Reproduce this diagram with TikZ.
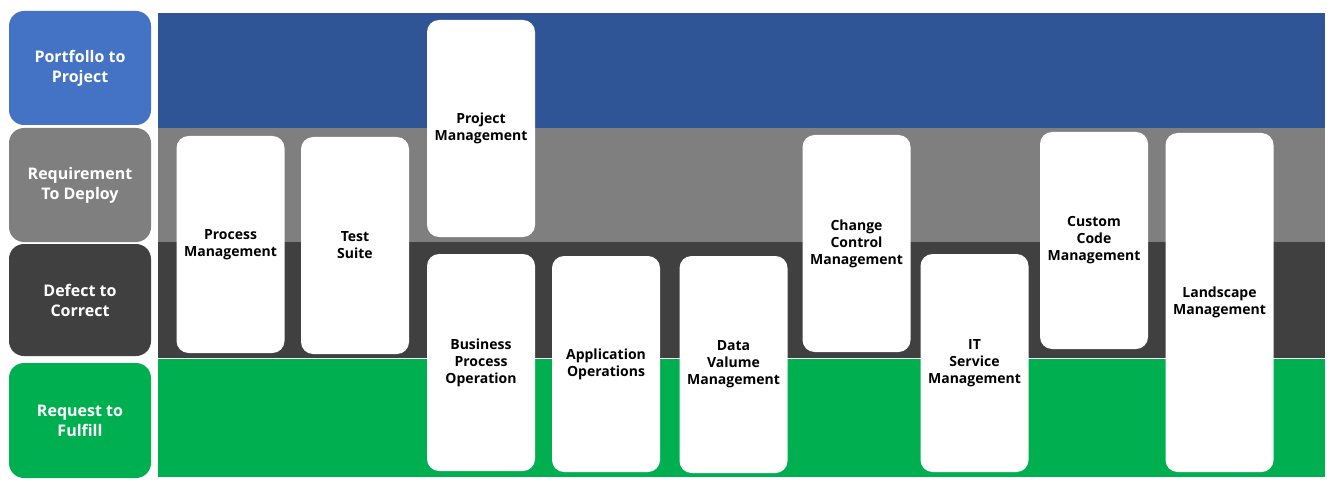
\documentclass[tikz,border=0pt]{standalone}
\usepackage{fontspec}
\setmainfont{Open Sans}
\usepackage{xcolor}
\usepackage{tikz}
\definecolor{laneltblue}{HTML}{4472C4}
\definecolor{laneblue}{HTML}{2F5597}
\definecolor{lanegray}{HTML}{7F7F7F}
\definecolor{lanedark}{HTML}{404040}
\definecolor{lanegreen}{HTML}{00B050}

\begin{document}
\begin{tikzpicture}[
    x=1pt, y=-1pt,
    every node/.style={font=\bfseries\fontsize{14}{17}\selectfont, align=center},
    lane/.style={rectangle, rounded corners=15pt, minimum width=142pt,
                 inner sep=0pt, text=white,
                 font=\bfseries\fontsize{16}{20}\selectfont},
    band/.style={rectangle, anchor=north west, inner sep=0pt,
                 minimum width=1167pt},
    card/.style={rectangle, rounded corners=12pt, fill=white,
                 minimum width=108pt, minimum height=217pt, inner sep=1pt},
]
\useasboundingbox (0, 0) rectangle (1330, 484);

% swim lanes
\node[band, fill=laneblue, minimum height=115pt] (bandp2p) at (158, 13) {};
\node[band, fill=lanegray, minimum height=114pt] (bandr2d) at (158, 128) {};
\node[band, fill=lanedark, minimum height=116pt] (bandd2c) at (158, 242) {};
\node[band, fill=lanegreen, minimum height=118pt] (bandr2f) at (158, 359) {};

% lane titles
\node[lane, fill=laneltblue, minimum height=114pt] (p2p) at (80, 68) {Portfollo to\\Project};
\node[lane, fill=lanegray, minimum height=114pt] (r2d) at (80, 185) {Requirement\\To Deploy};
\node[lane, fill=lanedark, minimum height=112pt] (d2c) at (80, 300) {Defect to\\Correct};
\node[lane, fill=lanegreen, minimum height=115pt] (r2f) at (80, 420.5) {Request to\\Fulfill};

% tools
\node[card] (procmgmt) at (230.5, 244.5) {Process\\Management};
\node[card] (testsuite) at (355, 245.5) {Test\\Suite};
\node[card] (projmgmt) at (481, 128.5) {Project\\Management};
\node[card] (bizproc) at (481, 362.5) {Business\\Process\\Operation};
\node[card, minimum height=216pt] (appops) at (606, 364) {Application\\Operations};
\node[card] (datavol) at (733.5, 364.5) {Data\\Valume\\Management};
\node[card] (chgctrl) at (856.5, 243.5) {Change\\Control\\Management};
\node[card, minimum height=218pt] (itsm) at (974.5, 363) {IT\\Service\\Management};
\node[card] (customcode) at (1094, 240.5) {Custom\\Code\\Management};
\node[card, minimum height=339pt] (landscape) at (1219.5, 302.5) {Landscape\\Management};

\end{tikzpicture}
\end{document}
